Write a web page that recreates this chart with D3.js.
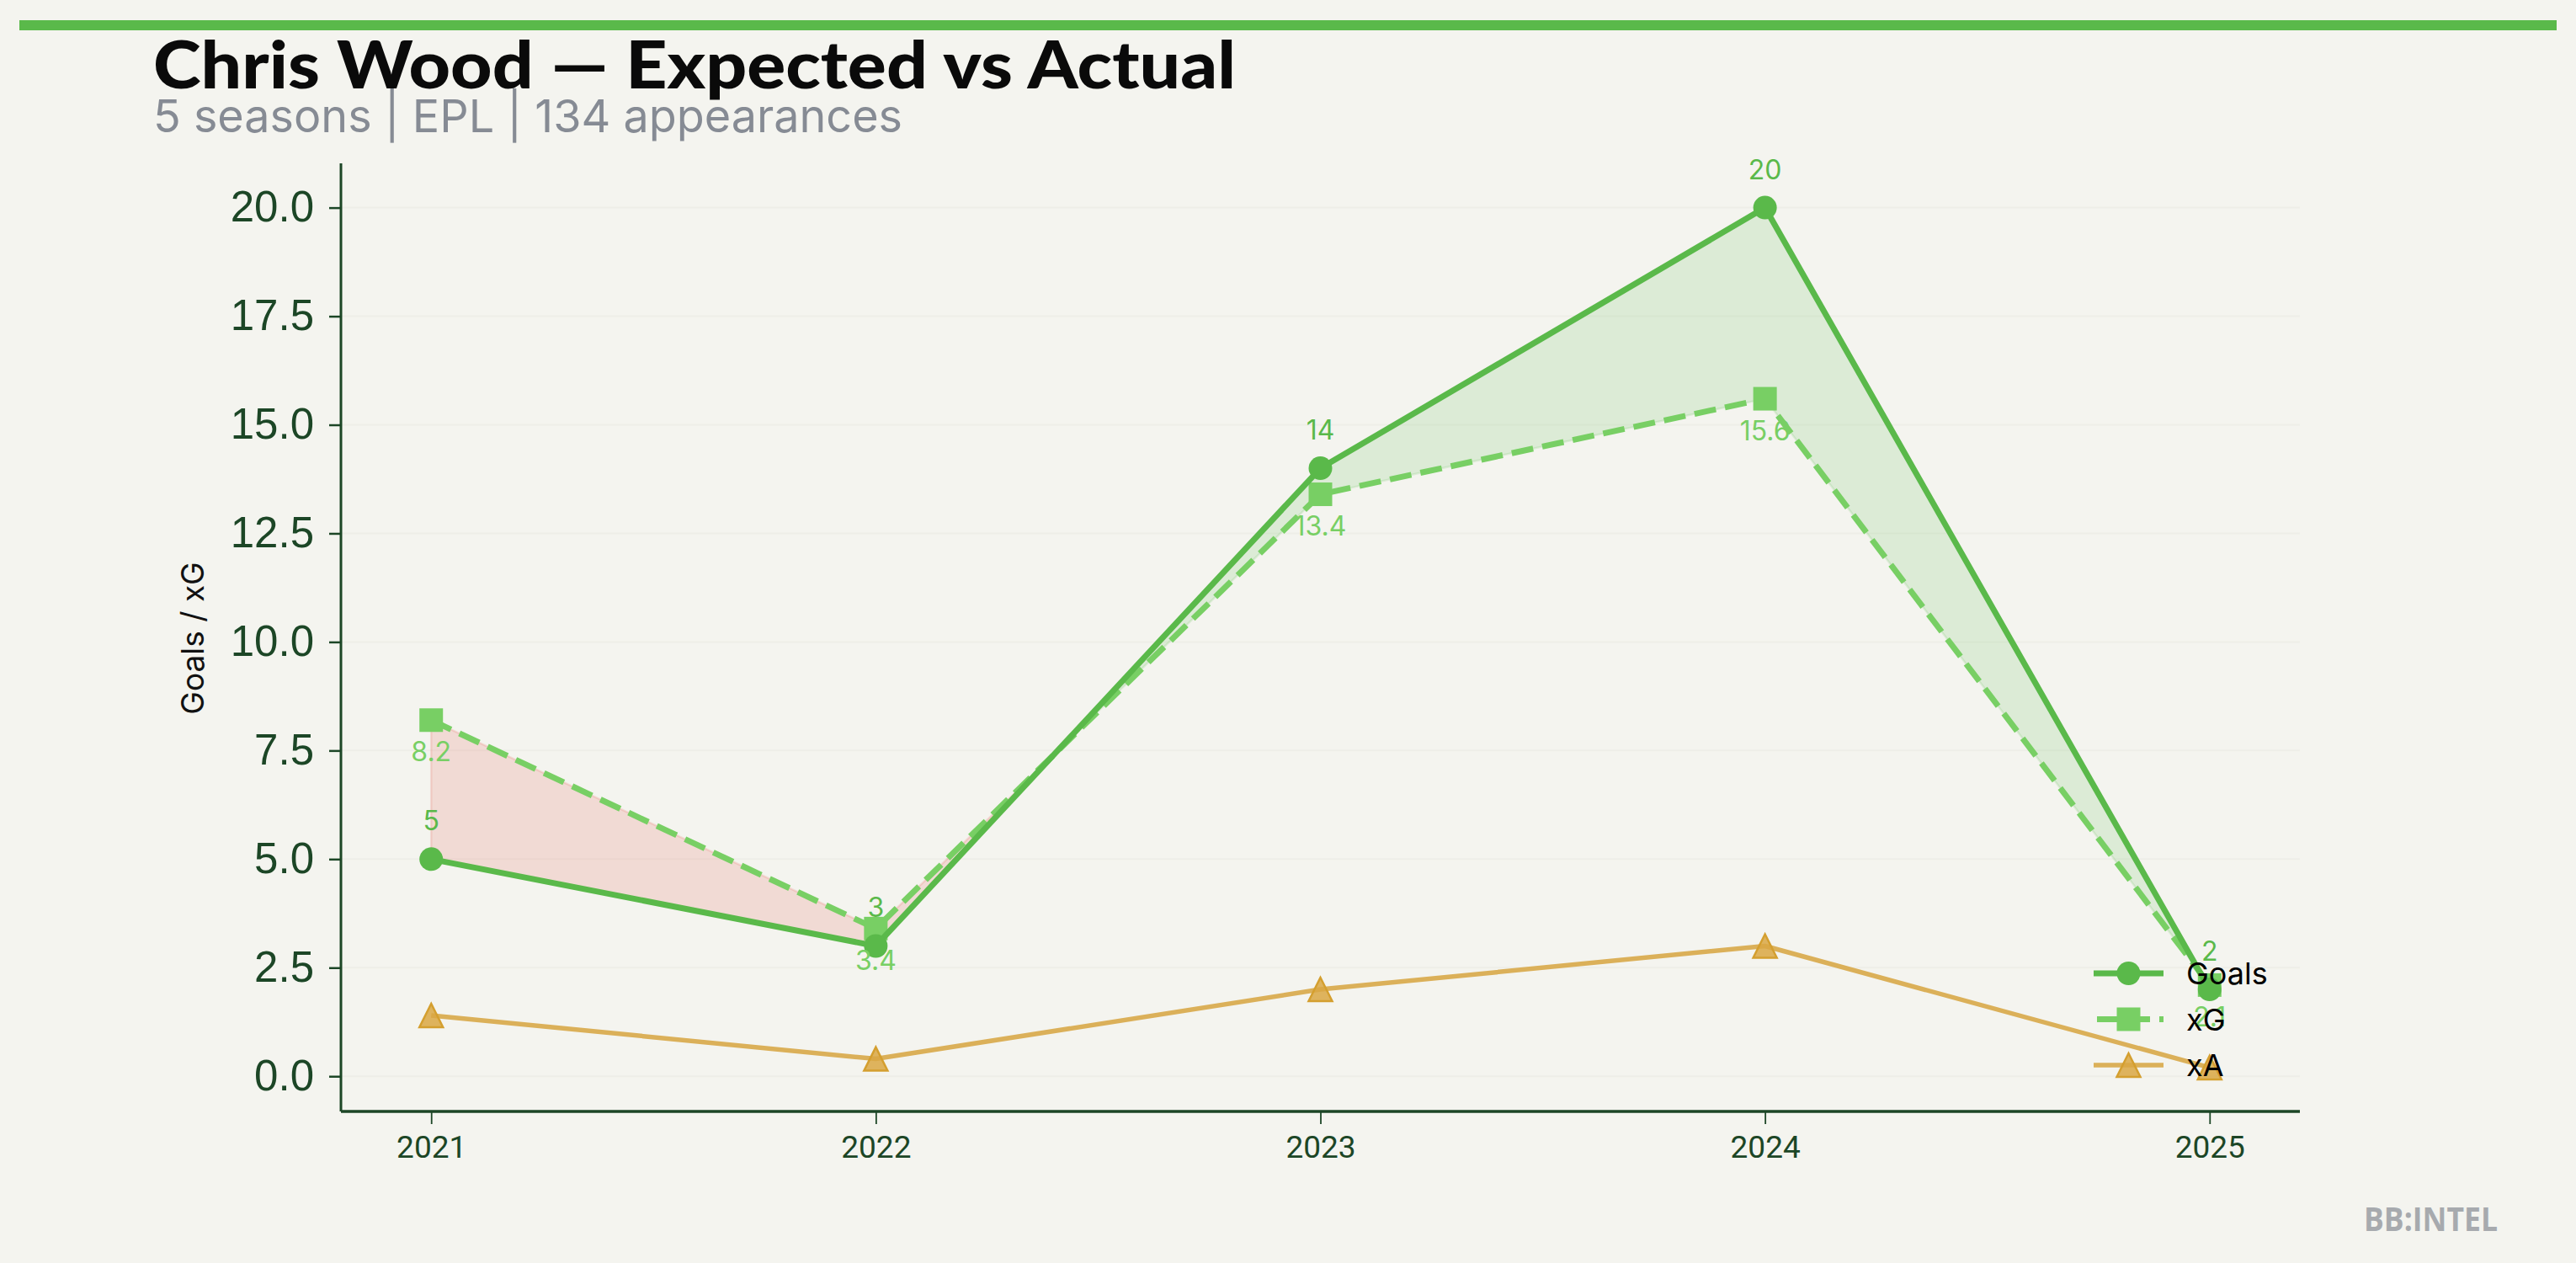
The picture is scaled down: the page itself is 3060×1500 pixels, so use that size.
<!DOCTYPE html>
<html>
<head>
<meta charset="utf-8">
<script src="https://cdn.jsdelivr.net/npm/d3@7"></script>
<style>
  html, body { margin: 0; padding: 0; background: #f4f4ef; }
  svg { display: block; }
</style>
</head>
<body>
<svg id="chart" width="3060" height="1500"></svg>
<script>
// ---- data ----
const seasons = [2021, 2022, 2023, 2024, 2025];
const goals   = [5, 3, 14, 20, 2];
const xg      = [8.2, 3.4, 13.4, 15.6, 2.1];
const xa      = [1.4, 0.4, 2.0, 3.0, 0.2];
const yTicks  = [0, 2.5, 5, 7.5, 10, 12.5, 15, 17.5, 20];
const legendLabels = ["Goals", "xG", "xA"];
const titleText = "Chris Wood \u2014 Expected vs Actual";
const subtitleText = "5 seasons | EPL | 134 appearances";
const yAxisLabel = "Goals / xG";
const watermark = "BB:INTEL";

// ---- styles ----
const BG = "#f4f4ef";
const C_GOALS = "#5ab94a";
const C_XG = "#78cf64";
const C_XA = "#dbb059";
const C_XA_MARK = "#d9a743";
const C_AXIS = "#1c4626";
const C_RED = "#e74c3c";

const svg = d3.select("#chart");
svg.append("rect").attr("width", 3060).attr("height", 1500).attr("fill", BG);

// top accent bar
svg.append("rect").attr("x", 23).attr("y", 24).attr("width", 3014).attr("height", 12).attr("fill", C_GOALS);

// title + subtitle
svg.append("text").attr("x", 182).attr("y", 105)
  .attr("font-family", "Lato, 'DejaVu Sans', sans-serif").attr("font-weight", 900)
  .attr("font-size", 78).attr("fill", "#0a0a0a")
  .attr("textLength", 1286).attr("lengthAdjust", "spacingAndGlyphs")
  .text(titleText);
svg.append("text").attr("x", 182).attr("y", 157)
  .attr("font-family", "Inter, 'Noto Sans', sans-serif").attr("font-weight", 400)
  .attr("font-size", 54).attr("fill", "#868b94")
  .attr("textLength", 890).attr("lengthAdjust", "spacingAndGlyphs")
  .text(subtitleText);

// ---- scales ----
const plot = { left: 405, right: 2732, top: 194, bottom: 1320 };
const x = d3.scaleLinear().domain([2020.797, 2025.203]).range([plot.left, plot.right]);
const y = d3.scaleLinear().domain([-0.81, 21.02]).range([plot.bottom, plot.top]);

// grid
svg.append("g").selectAll("line").data(yTicks).join("line")
  .attr("x1", plot.left).attr("x2", plot.right)
  .attr("y1", d => y(d)).attr("y2", d => y(d))
  .attr("stroke", "#eeeee8").attr("stroke-width", 2);

// ---- fills between goals and xG ----
const pts = [];
for (let i = 0; i < seasons.length; i++) {
  pts.push({ x: seasons[i], g: goals[i], e: xg[i], d: xg[i] - goals[i] });
  if (i < seasons.length - 1) {
    const d0 = xg[i] - goals[i], d1 = xg[i + 1] - goals[i + 1];
    if (d0 * d1 < 0) {
      const t = d0 / (d0 - d1);
      const gx = goals[i] + t * (goals[i + 1] - goals[i]);
      pts.push({ x: seasons[i] + t * (seasons[i + 1] - seasons[i]), g: gx, e: gx, d: 0 });
    }
  }
}
function runs(sign) {
  const out = []; let cur = [];
  pts.forEach(p => {
    if (p.d === 0 || Math.sign(p.d) === sign) { cur.push(p); if (p.d === 0 && cur.length > 1) { out.push(cur); cur = [p]; } }
    else { if (cur.length > 1) out.push(cur); cur = []; }
  });
  if (cur.length > 1) out.push(cur);
  return out;
}
const area = d3.area().x(p => x(p.x)).y0(p => y(p.g)).y1(p => y(p.e));
const fillG = svg.append("g");
runs(1).forEach(r => fillG.append("path").attr("d", area(r))
  .attr("fill", C_RED).attr("fill-opacity", 0.15)
  .attr("stroke", C_RED).attr("stroke-opacity", 0.15).attr("stroke-width", 2.5));
runs(-1).forEach(r => fillG.append("path").attr("d", area(r))
  .attr("fill", C_GOALS).attr("fill-opacity", 0.15)
  .attr("stroke", C_GOALS).attr("stroke-opacity", 0.15).attr("stroke-width", 2.5));

// ---- axes ----
const yAxis = d3.axisLeft(y).tickValues(yTicks).tickFormat(d3.format(".1f")).tickSize(14).tickPadding(18);
const gy = svg.append("g").attr("transform", `translate(${plot.left},0)`).call(yAxis);
gy.select(".domain").attr("stroke", C_AXIS).attr("stroke-width", 3).attr("d", `M0,${plot.top}V${plot.bottom}`);
gy.selectAll(".tick line").attr("stroke", C_AXIS).attr("stroke-width", 2.5);
gy.selectAll(".tick text").attr("fill", C_AXIS)
  .attr("font-family", "'Liberation Sans', Arial, sans-serif").attr("font-size", 51);

const xAxis = d3.axisBottom(x).tickValues(seasons).tickFormat(d3.format("d")).tickSize(15).tickPadding(14);
const gx = svg.append("g").attr("transform", `translate(0,${plot.bottom})`).call(xAxis);
gx.select(".domain").attr("stroke", C_AXIS).attr("stroke-width", 3.5).attr("d", `M${plot.left},0H${plot.right}`);
gx.selectAll(".tick line").attr("stroke", C_AXIS).attr("stroke-width", 1.8);
gx.selectAll(".tick text").attr("fill", C_AXIS)
  .attr("font-family", "Roboto, sans-serif").attr("font-size", 37);

svg.append("text")
  .attr("transform", `translate(242,758) rotate(-90)`)
  .attr("text-anchor", "middle")
  .attr("font-family", "Inter, sans-serif").attr("font-size", 37).attr("fill", "#111")
  .text(yAxisLabel);

// ---- series ----
const triType = { draw(ctx, size) { const h = Math.sqrt(size) / 2; ctx.moveTo(0, -h); ctx.lineTo(h, h); ctx.lineTo(-h, h); ctx.closePath(); } };
const line = d3.line().x(d => x(d[0])).y(d => y(d[1]));
const zip = arr => seasons.map((s, i) => [s, arr[i]]);

// xA
svg.append("path").attr("d", line(zip(xa))).attr("fill", "none")
  .attr("stroke", C_XA).attr("stroke-width", 5.5).attr("stroke-linejoin", "round");
svg.append("g").selectAll("path").data(zip(xa)).join("path")
  .attr("transform", d => `translate(${x(d[0])},${y(d[1])})`)
  .attr("d", d3.symbol(triType, 784)())
  .attr("fill", C_XA_MARK).attr("fill-opacity", 0.85)
  .attr("stroke", "#d49f2f").attr("stroke-width", 2.5);

// xG
svg.append("path").attr("d", line(zip(xg))).attr("fill", "none")
  .attr("stroke", C_XG).attr("stroke-width", 7).attr("stroke-dasharray", "26,11");
svg.append("g").selectAll("path").data(zip(xg)).join("path")
  .attr("transform", d => `translate(${x(d[0])},${y(d[1])})`)
  .attr("d", d3.symbol(d3.symbolSquare, 784)())
  .attr("fill", C_XG);

// Goals
svg.append("path").attr("d", line(zip(goals))).attr("fill", "none")
  .attr("stroke", C_GOALS).attr("stroke-width", 7).attr("stroke-linejoin", "round");
svg.append("g").selectAll("circle").data(zip(goals)).join("circle")
  .attr("cx", d => x(d[0])).attr("cy", d => y(d[1])).attr("r", 14)
  .attr("fill", C_GOALS);

// value labels
svg.append("g").selectAll("text").data(zip(goals)).join("text")
  .attr("x", d => x(d[0])).attr("y", d => y(d[1]) - 34)
  .attr("text-anchor", "middle").attr("font-family", "Inter, sans-serif").attr("font-size", 32)
  .attr("fill", C_GOALS).text(d => d3.format("d")(d[1]));
svg.append("g").selectAll("text").data(zip(xg)).join("text")
  .attr("x", d => x(d[0])).attr("y", d => y(d[1]) + 49)
  .attr("text-anchor", "middle").attr("font-family", "Inter, sans-serif").attr("font-size", 32)
  .attr("fill", C_XG).text(d => d3.format(".1f")(d[1]));

// ---- legend ----
const lg = svg.append("g").attr("transform", "translate(2487,1156)");
const rowH = 54.5;
legendLabels.forEach((lab, i) => {
  const row = lg.append("g").attr("transform", `translate(0,${i * rowH})`);
  const col = i === 0 ? C_GOALS : i === 1 ? C_XG : C_XA;
  row.append("line").attr("x1", 0).attr("x2", 83).attr("y1", 0).attr("y2", 0)
    .attr("stroke", col).attr("stroke-width", i === 2 ? 5.5 : 7)
    .attr("stroke-dasharray", i === 1 ? "26,11" : null)
    .attr("stroke-dashoffset", i === 1 ? -4 : 0);
  if (i === 0) row.append("circle").attr("cx", 41.5).attr("r", 14).attr("fill", C_GOALS);
  if (i === 1) row.append("path").attr("transform", "translate(41.5,0)").attr("d", d3.symbol(d3.symbolSquare, 784)()).attr("fill", C_XG);
  if (i === 2) row.append("path").attr("transform", "translate(41.5,0)").attr("d", d3.symbol(triType, 784)())
    .attr("fill", C_XA_MARK).attr("fill-opacity", 0.85).attr("stroke", "#d49f2f").attr("stroke-width", 2.5);
  row.append("text").attr("x", 110).attr("y", 13)
    .attr("font-family", "Inter, sans-serif").attr("font-size", 36).attr("fill", "#000").text(lab);
});

// watermark
svg.append("text").attr("x", 2967).attr("y", 1462).attr("text-anchor", "end")
  .attr("font-family", "'Open Sans', sans-serif").attr("font-weight", 700).attr("font-size", 40)
  .attr("fill", "#a7aaae").attr("textLength", 159).attr("lengthAdjust", "spacingAndGlyphs")
  .text(watermark);
</script>
</body>
</html>
